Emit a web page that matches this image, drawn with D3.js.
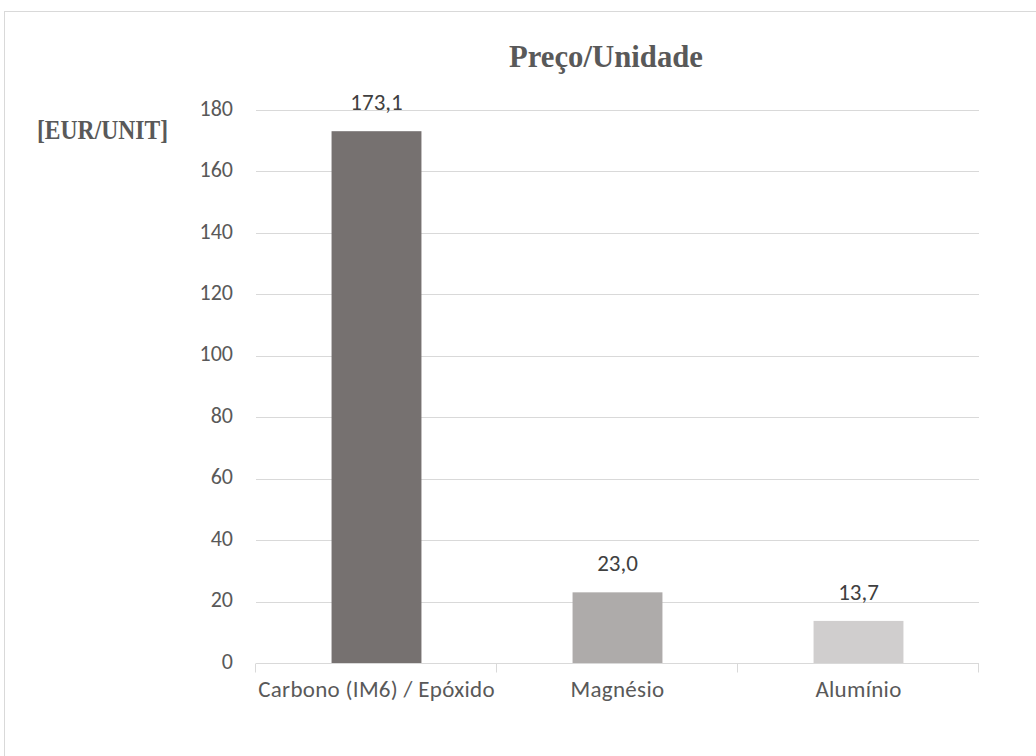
<!DOCTYPE html>
<html>
<head>
<meta charset="utf-8">
<script src="https://cdn.jsdelivr.net/npm/d3@7"></script>
<style>
  html, body { margin: 0; padding: 0; background: #fff; }
  svg { display: block; }
</style>
</head>
<body>
<svg id="chart" width="1036" height="756"></svg>
<script>
// Unit price per material
const categories = ["Carbono (IM6) / Epóxido", "Magnésio", "Alumínio"];
const values = [173.1, 23.0, 13.7];
const valueLabels = ["173,1", "23,0", "13,7"];
const barColors = ["#767170", "#AEABAA", "#D0CECE"];
const yTicks = [0, 20, 40, 60, 80, 100, 120, 140, 160, 180];

const W = 1036, H = 756;
const plot = { left: 256, right: 979, top: 110, bottom: 663 };
const svg = d3.select("#chart");

// outer frame
svg.append("rect")
  .attr("x", 4.5).attr("y", 11.5)
  .attr("width", W + 10).attr("height", H + 10)
  .attr("fill", "none").attr("stroke", "#d9d9d9").attr("stroke-width", 1);

const xBand = d3.scaleBand()
  .domain(categories)
  .range([plot.left, plot.right]);

const x = d3.scaleBand()
  .domain(categories)
  .range([plot.left, plot.right])
  .paddingInner(0.627).paddingOuter(0.3135);

const y = d3.scaleLinear()
  .domain([0, 180])
  .range([plot.bottom, plot.top]);

const labelFont = "Carlito, Calibri, 'Liberation Sans', sans-serif";

// gridlines
svg.append("g")
  .selectAll("line")
  .data(yTicks.filter(d => d > 0))
  .join("line")
  .attr("x1", plot.left).attr("x2", plot.right)
  .attr("y1", d => Math.round(y(d)) + 0.5).attr("y2", d => Math.round(y(d)) + 0.5)
  .attr("stroke", "#d9d9d9").attr("stroke-width", 1);

// y tick labels
svg.append("g")
  .selectAll("text")
  .data(yTicks)
  .join("text")
  .attr("x", 233)
  .attr("y", d => y(d) - 2)
  .attr("dy", "0.35em")
  .attr("text-anchor", "end")
  .attr("font-family", labelFont)
  .attr("font-size", 22)
  .attr("fill", "#595959")
  .text(d => d);

// bars
svg.append("g")
  .selectAll("rect")
  .data(categories)
  .join("rect")
  .attr("x", d => x(d))
  .attr("width", x.bandwidth())
  .attr("y", (d, i) => y(values[i]))
  .attr("height", (d, i) => y(0) - y(values[i]))
  .attr("fill", (d, i) => barColors[i]);

// x axis baseline with category separators
const axisG = svg.append("g")
  .attr("transform", `translate(0,${Math.round(y(0)) + 0.5})`);
axisG.append("line")
  .attr("x1", plot.left).attr("x2", plot.right)
  .attr("stroke", "#d9d9d9");
const bounds = [plot.left, ...categories.map(c => xBand(c) + xBand.bandwidth())];
axisG.selectAll("line.sep")
  .data(bounds)
  .join("line")
  .attr("class", "sep")
  .attr("x1", d => Math.round(d) - 0.5).attr("x2", d => Math.round(d) - 0.5)
  .attr("y1", 0).attr("y2", 9)
  .attr("stroke", "#d9d9d9");

// category labels
svg.append("g")
  .selectAll("text")
  .data(categories)
  .join("text")
  .attr("x", d => xBand(d) + xBand.bandwidth() / 2)
  .attr("y", y(0) + 34)
  .attr("text-anchor", "middle")
  .attr("font-family", labelFont)
  .attr("font-size", 23)
  .attr("letter-spacing", 0.3)
  .attr("fill", "#595959")
  .text(d => d);

// value labels
svg.append("g")
  .selectAll("text")
  .data(categories)
  .join("text")
  .attr("x", d => x(d) + x.bandwidth() / 2)
  .attr("y", (d, i) => y(values[i]) - 21)
  .attr("text-anchor", "middle")
  .attr("font-family", labelFont)
  .attr("font-size", 23)
  .attr("fill", "#404040")
  .text((d, i) => valueLabels[i]);

// title
svg.append("text")
  .attr("x", 606).attr("y", 67)
  .attr("text-anchor", "middle")
  .attr("font-family", "'Liberation Serif', serif")
  .attr("font-weight", "bold")
  .attr("font-size", 32)
  .attr("textLength", 194)
  .attr("lengthAdjust", "spacingAndGlyphs")
  .attr("fill", "#595959")
  .text("Preço/Unidade");

// unit label
svg.append("text")
  .attr("x", 37).attr("y", 139)
  .attr("font-family", "'Liberation Serif', serif")
  .attr("font-weight", "bold")
  .attr("font-size", 28)
  .attr("textLength", 131)
  .attr("lengthAdjust", "spacingAndGlyphs")
  .attr("fill", "#595959")
  .text("[EUR/UNIT]");
</script>
</body>
</html>
